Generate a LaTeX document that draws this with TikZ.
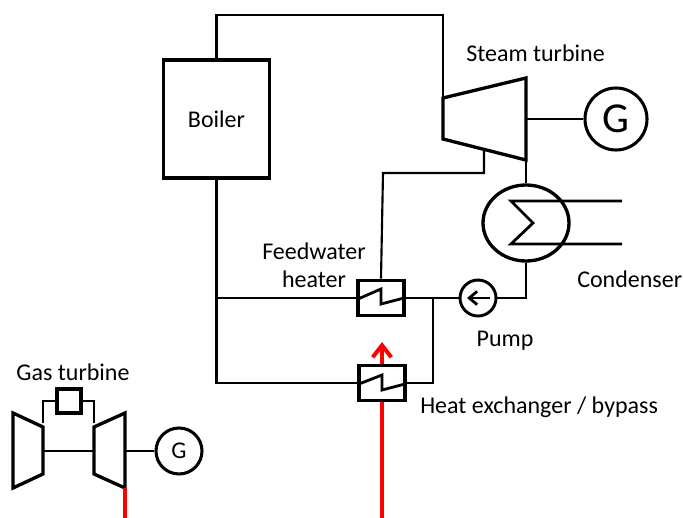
\documentclass[tikz,border=0pt]{standalone}
\usepackage{fontspec}
\setmainfont{Carlito}
\usetikzlibrary{arrows.meta,shapes.geometric}
\definecolor{hot}{RGB}{255,0,0}
\tikzset{
  x=0.75pt,y=-0.75pt,
  heavy/.style={line width=2.5pt,draw=black,line join=miter},
  pipe/.style={line width=2.1pt,draw=black},
  thin pipe/.style={line width=1.6pt,draw=black},
  hotline/.style={line width=3pt,draw=hot},
  label/.style={font=\fontsize{18}{21}\selectfont,text=black,inner sep=0pt},
  hxbox/.style={rectangle,heavy,minimum width=34.5pt,minimum height=26.5pt,inner sep=0pt},
  gen/.style={circle,line width=2.3pt,draw=black,inner sep=0pt},
}
\begin{document}
\begin{tikzpicture}
\useasboundingbox (0,0) rectangle (683,518);
% Nodes
\node[rectangle,heavy,minimum width=79.5pt,minimum height=88.5pt,inner sep=0pt,label] (boiler) at (216.5,119) {Boiler};
\node[gen,minimum size=46.5pt,font=\fontsize{32}{34}\selectfont] (G1) at (616,119) {G};
\node[gen,minimum size=34.5pt,font=\fontsize{18}{20}\selectfont] (G2) at (179,451) {G};
\node[ellipse,line width=2.5pt,draw=black,minimum width=64.5pt,minimum height=57pt,inner sep=0pt] (cond) at (526,223) {};
\node[circle,line width=2.2pt,draw=black,minimum size=27pt,inner sep=0pt] (pump) at (478,298) {};
\node[hxbox] (fw) at (381,298) {};
\node[hxbox] (hx) at (382,383) {};
\node[rectangle,heavy,minimum width=18pt,minimum height=18pt,inner sep=0pt] (comb) at (69,401) {};
% Turbine outlines
\coordinate (stTL) at (443,98);
\coordinate (stTR) at (526,78);
\coordinate (stBR) at (526,160);
\coordinate (stBL) at (443,139);
\coordinate (stShaft) at (526,119);
\coordinate (stExt) at (484,150);
\draw[heavy] (stTL) -- (stTR) -- (stBR) -- (stBL) -- cycle;
\coordinate (cTL) at (13,413);
\coordinate (cTR) at (43,427);
\coordinate (cBR) at (43,474);
\coordinate (cBL) at (13,488);
\draw[heavy] (cTL) -- (cTR) -- (cBR) -- (cBL) -- cycle;
\coordinate (tTL) at (94,427);
\coordinate (tTR) at (125,413);
\coordinate (tBR) at (125,488);
\coordinate (tBL) at (94,474);
\draw[heavy] (tTL) -- (tTR) -- (tBR) -- (tBL) -- cycle;
% Junctions
\coordinate (j1) at (216.5,298);
\coordinate (j2) at (216.5,383);
\coordinate (j3) at (433,298);
\coordinate (j4) at (433,383);
\coordinate (cin) at (622,201);
\coordinate (cout) at (622,244);
\coordinate (hotbot) at (382,518);
\coordinate (hottop) at (382,342);
\coordinate (gtbot) at (125,518);
% Pipes
\draw[pipe] (boiler.north) -- (216.5,15) -- (443,15) -- (stTL);
\draw[pipe] (boiler.south) -- (j2) -- (hx.west);
\draw[pipe] (j1) -- (fw.west);
\draw[pipe] (stShaft) -- (G1.west);
\draw[pipe] (stBR) -- (cond.north);
\draw[thin pipe] (stExt) -- (484,173) -- (383,173) -- (fw.north);
\draw[pipe] (fw.east) -- (pump.west);
\draw[pipe] (pump.east) -- (526,298) -- (cond.south);
\draw[pipe] (j3) -- (j4) -- (hx.east);
% Condenser coil
\draw[pipe] (cin) -- (511,201) -- (533,223) -- (511,244) -- (cout);
% Pump arrow
\draw[line width=2.1pt,-{Straight Barb[length=6pt,width=10pt,line width=2.1pt]}] (pump.center)++(12,0) -- ++(-23,0);
% Heater zigzags
\draw[pipe] (358,299) -- (381,289) -- (381,304) -- (404,298);
\draw[pipe] (359,384) -- (382,375) -- (382,390) -- (405,384);
% Gas turbine
\draw[pipe] (43,451) -- (94,451);
\draw[pipe] (125,451) -- (G2.west);
\draw[thin pipe] (43,423) -- (43,401) -- (comb.west);
\draw[thin pipe] (comb.east) -- (94,401) -- (94,423);
% Hot gas
\draw[hotline] (tBR) -- (gtbot);
\draw[hotline] (hotbot) -- (hx.south);
\draw[hotline,-{Straight Barb[length=9pt,width=14pt,line width=3pt]}] (hx.north) -- (hottop);
% Labels
\node[label,anchor=west] (l1) at (466,53) {Steam turbine};
\node[label,align=center] (l2) at (314,265) {Feedwater\\heater};
\node[label,anchor=west] (l3) at (577,279) {Condenser};
\node[label] (l4) at (505,341) {Pump};
\node[label,anchor=west] (l5) at (420,407) {Heat exchanger / bypass};
\node[label] (l6) at (73,372) {Gas turbine};
\end{tikzpicture}
\end{document}
